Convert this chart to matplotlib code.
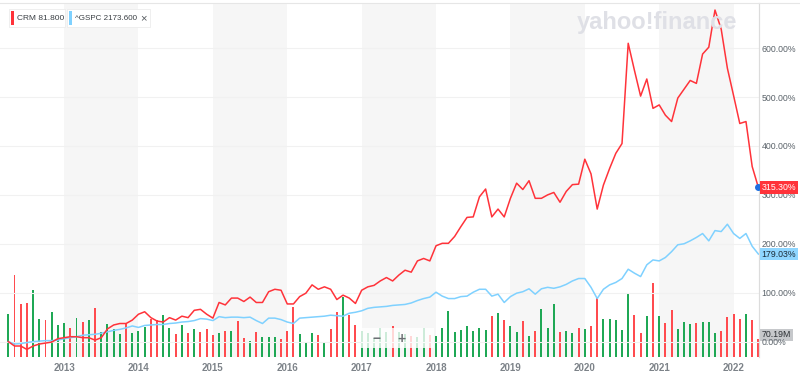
import matplotlib
matplotlib.use("Agg")
import matplotlib.pyplot as plt
from matplotlib.patches import Rectangle
import numpy as np

plt.rcParams["font.family"] = ["Liberation Sans", "DejaVu Sans"]

# monthly data, Apr 2012 .. May 2022 (percent change from first month)
crm_pct = [0, -9, -9, -16, -9, -5, -3, -1, 6, 8,
           10, 10, 8, 8, 3, 8, 26, 34, 37, 37,
           44, 56, 61, 49, 42, 40, 49, 44, 52, 49,
           64, 66, 56, 48, 80, 75, 89, 89, 82, 91,
           80, 80, 102, 107, 105, 77, 77, 92, 99, 116,
           107, 112, 107, 86, 95, 89, 78, 105, 112, 115,
           124, 131, 124, 136, 146, 142, 165, 170, 165, 196,
           201, 201, 215, 235, 254, 255, 296, 312, 255, 271,
           255, 293, 324, 311, 329, 293, 293, 300, 305, 285,
           307, 321, 322, 373, 343, 271, 320, 354, 385, 405,
           610, 555, 502, 537, 477, 484, 463, 450, 498, 516,
           534, 528, 588, 602, 678, 639, 559, 503, 446, 450,
           358, 315.30]

gspc_pct = [0, -5, -4, -2, 0, 1, 2, 2, 3, 6,
            8, 10, 13, 14, 15, 17, 20, 23, 25, 28,
            32, 29, 33, 34, 35, 35, 37, 38, 40, 41,
            43, 47, 46, 43, 51, 49, 50, 50, 49, 50,
            43, 37, 48, 48, 45, 40, 37, 48, 49, 50,
            51, 52, 54, 53, 52, 58, 60, 63, 68, 70,
            71, 72, 74, 75, 76, 79, 84, 88, 91, 101,
            93, 88, 88, 92, 93, 101, 107, 107, 93, 97,
            80, 92, 99, 102, 108, 97, 108, 111, 109, 112,
            117, 124, 129, 129, 111, 88, 107, 116, 121, 129,
            148, 140, 133, 157, 167, 165, 172, 184, 198, 200,
            206, 213, 221, 206, 227, 225, 240, 221, 211, 221,
            195, 179.03]

# CRM volume, millions
volume_m = [166, 315, 204, 207, 258, 148, 143, 175, 124, 132,
            114, 149, 134, 142, 188, 98, 129, 107, 89, 128,
            93, 101, 117, 147, 143, 161, 111, 88, 124, 92,
            109, 98, 109, 84, 94, 101, 101, 139, 73, 64,
            97, 79, 79, 77, 70, 100, 194, 88, 57, 92,
            86, 60, 109, 172, 230, 162, 124, 100, 92, 73,
            111, 98, 120, 98, 90, 82, 77, 114, 84, 82,
            114, 179, 97, 105, 119, 100, 111, 103, 160, 170,
            141, 119, 97, 138, 82, 102, 185, 114, 206, 95,
            102, 92, 111, 107, 119, 230, 147, 146, 143, 105,
            245, 162, 93, 158, 283, 158, 131, 180, 107, 134,
            126, 131, 135, 135, 93, 100, 153, 166, 146, 166,
            143, 70.19]

# 1 = up month (green), 0 = down month (red)
vol_up = [1, 0, 0, 0, 1, 1, 0, 1, 1, 1,
          0, 1, 0, 1, 0, 1, 1, 1, 1, 0,
          1, 1, 1, 0, 0, 1, 1, 0, 1, 0,
          1, 0, 0, 0, 1, 0, 1, 0, 0, 1,
          0, 1, 1, 1, 0, 0, 0, 1, 1, 1,
          0, 1, 0, 0, 1, 0, 0, 1, 1, 1,
          1, 1, 0, 1, 1, 0, 1, 1, 0, 1,
          1, 1, 1, 1, 1, 1, 1, 1, 0, 1,
          0, 1, 1, 0, 1, 0, 1, 1, 1, 0,
          1, 1, 0, 1, 0, 0, 1, 1, 1, 1,
          1, 0, 0, 1, 0, 1, 0, 0, 1, 1,
          1, 0, 1, 1, 1, 0, 0, 0, 0, 1,
          0, 0]

years = [2013, 2014, 2015, 2016, 2017, 2018, 2019, 2020, 2021, 2022]
pct_ticks = [0, 100, 200, 300, 400, 500, 600]

RED    = "#ff333a"
BLUE   = "#7fd1ff"
GREEN  = "#1fa855"
VRED   = "#ff4b4f"
GRID   = "#f1f1f1"
BAND   = "#f6f6f6"
TXT    = "#5b636a"

W, H = 800, 377


def fx(px):
    return px / W


def fy(py):
    return 1 - py / H


x = np.arange(len(crm_pct))
year_pos = [9 + 12 * k for k in range(len(years))]   # January positions

fig = plt.figure(figsize=(8, 3.77), dpi=100, facecolor="white")
rect = [0, fy(357.3), fx(759), fy(3) - fy(357.3)]

# volume axes (bottom layer)
axv = fig.add_axes(rect)
axv.set_xlim(-1.34, 121.1)
axv.set_ylim(0, 354.3 * 3.83)
for k, yr in enumerate(years):
    if yr % 2 == 1:
        axv.axvspan(year_pos[k], year_pos[k] + 12, color=BAND, lw=0, zorder=0)
cols = [GREEN if u else VRED for u in vol_up]
axv.bar(x, volume_m, width=0.32, color=cols, zorder=2)
axv.set_yticks([])
axv.set_xticks(year_pos)
axv.set_xticklabels([str(y) for y in years], color="#7d8389", fontsize=7,
                    fontweight="bold")
axv.tick_params(axis="x", length=0, pad=4)
for s in ["top", "left", "bottom"]:
    axv.spines[s].set_visible(False)
axv.spines["right"].set_color("#dcdcdc")

# price axes (lines on top)
axp = fig.add_axes(rect, sharex=axv, facecolor="none")
axp.set_ylim(-32.1, 692.4)
axp.set_yticks(pct_ticks)
axp.set_yticklabels([f"{t:.2f}%" for t in pct_ticks], color=TXT, fontsize=6.3)
axp.yaxis.tick_right()
axp.tick_params(axis="y", length=0, pad=2)
axp.tick_params(axis="x", bottom=False, labelbottom=False)
axp.grid(axis="y", color=GRID, lw=0.8, zorder=0)
for s in ["top", "left", "bottom"]:
    axp.spines[s].set_visible(False)
axp.spines["right"].set_color("#dcdcdc")

axp.plot(x, gspc_pct, color=BLUE, lw=1.1, zorder=3)
axp.plot(x, crm_pct, color=RED, lw=1.1, zorder=4)
axp.plot(x[-1], crm_pct[-1], "o", color="#1e6fe0", ms=4, zorder=5, clip_on=False)

# value labels at right edge
axp.annotate(f"{crm_pct[-1]:.2f}%", xy=(1, crm_pct[-1]),
             xycoords=("axes fraction", "data"), xytext=(2, 0),
             textcoords="offset points", ha="left", va="center",
             fontsize=6.3, color="white",
             bbox=dict(boxstyle="square,pad=0.2", fc=RED, ec="none"), zorder=10)
axp.annotate(f"{gspc_pct[-1]:.2f}%", xy=(1, gspc_pct[-1]),
             xycoords=("axes fraction", "data"), xytext=(2, 0),
             textcoords="offset points", ha="left", va="center",
             fontsize=6.3, color="#1b2a36",
             bbox=dict(boxstyle="square,pad=0.2", fc="#8fd6ff", ec="none"), zorder=10)
axv.annotate(f"{volume_m[-1]:.2f}M", xy=(1, volume_m[-1]),
             xycoords=("axes fraction", "data"), xytext=(2, 3),
             textcoords="offset points", ha="left", va="center",
             fontsize=6.3, color="#2b2f33", annotation_clip=False,
             bbox=dict(boxstyle="square,pad=0.2", fc="#c6c8cb", ec="none"), zorder=10)

# top border
fig.add_artist(plt.Line2D([0, 1], [fy(3), fy(3)], color="#e6e6e6", lw=0.8))

# watermark
fig.text(fx(577), fy(22), "yahoo!finance", fontsize=17, fontweight="bold",
         color="#dfe0e6", ha="left", va="center", zorder=1)

# zoom control overlay
fig.add_artist(Rectangle((fx(361), fy(348)), fx(73), 20 / H, fc="white",
                         ec="none", alpha=0.78, zorder=6))
fig.text(fx(377), fy(339), "\u2212", fontsize=10, color="#6b6f73",
         ha="center", va="center", zorder=7, fontweight="bold")
fig.text(fx(402), fy(339), "+", fontsize=10, color="#6b6f73",
         ha="center", va="center", zorder=7, fontweight="bold")

# legend chips
for (x0, x1, c, label, fs) in [(9, 65, RED, "CRM 81.800", 6.0),
                               (67, 150, BLUE, "^GSPC 2173.600", 5.8)]:
    fig.add_artist(Rectangle((fx(x0), fy(27)), fx(x1 - x0), 18 / H, fc="white",
                             ec="#ececec", lw=0.6, zorder=8))
    fig.add_artist(Rectangle((fx(x0 + 2), fy(25)), fx(2.5), 14 / H, fc=c,
                             ec="none", zorder=9))
    fig.text(fx(x0 + 8), fy(18), label, fontsize=fs, color="#3a3f44",
             ha="left", va="center", zorder=9)
fig.text(fx(143), fy(18), "\u00d7", fontsize=8, color="#555a5f",
         ha="center", va="center", zorder=9)

plt.savefig("out.png", dpi=100, facecolor="white")
plt.close()
